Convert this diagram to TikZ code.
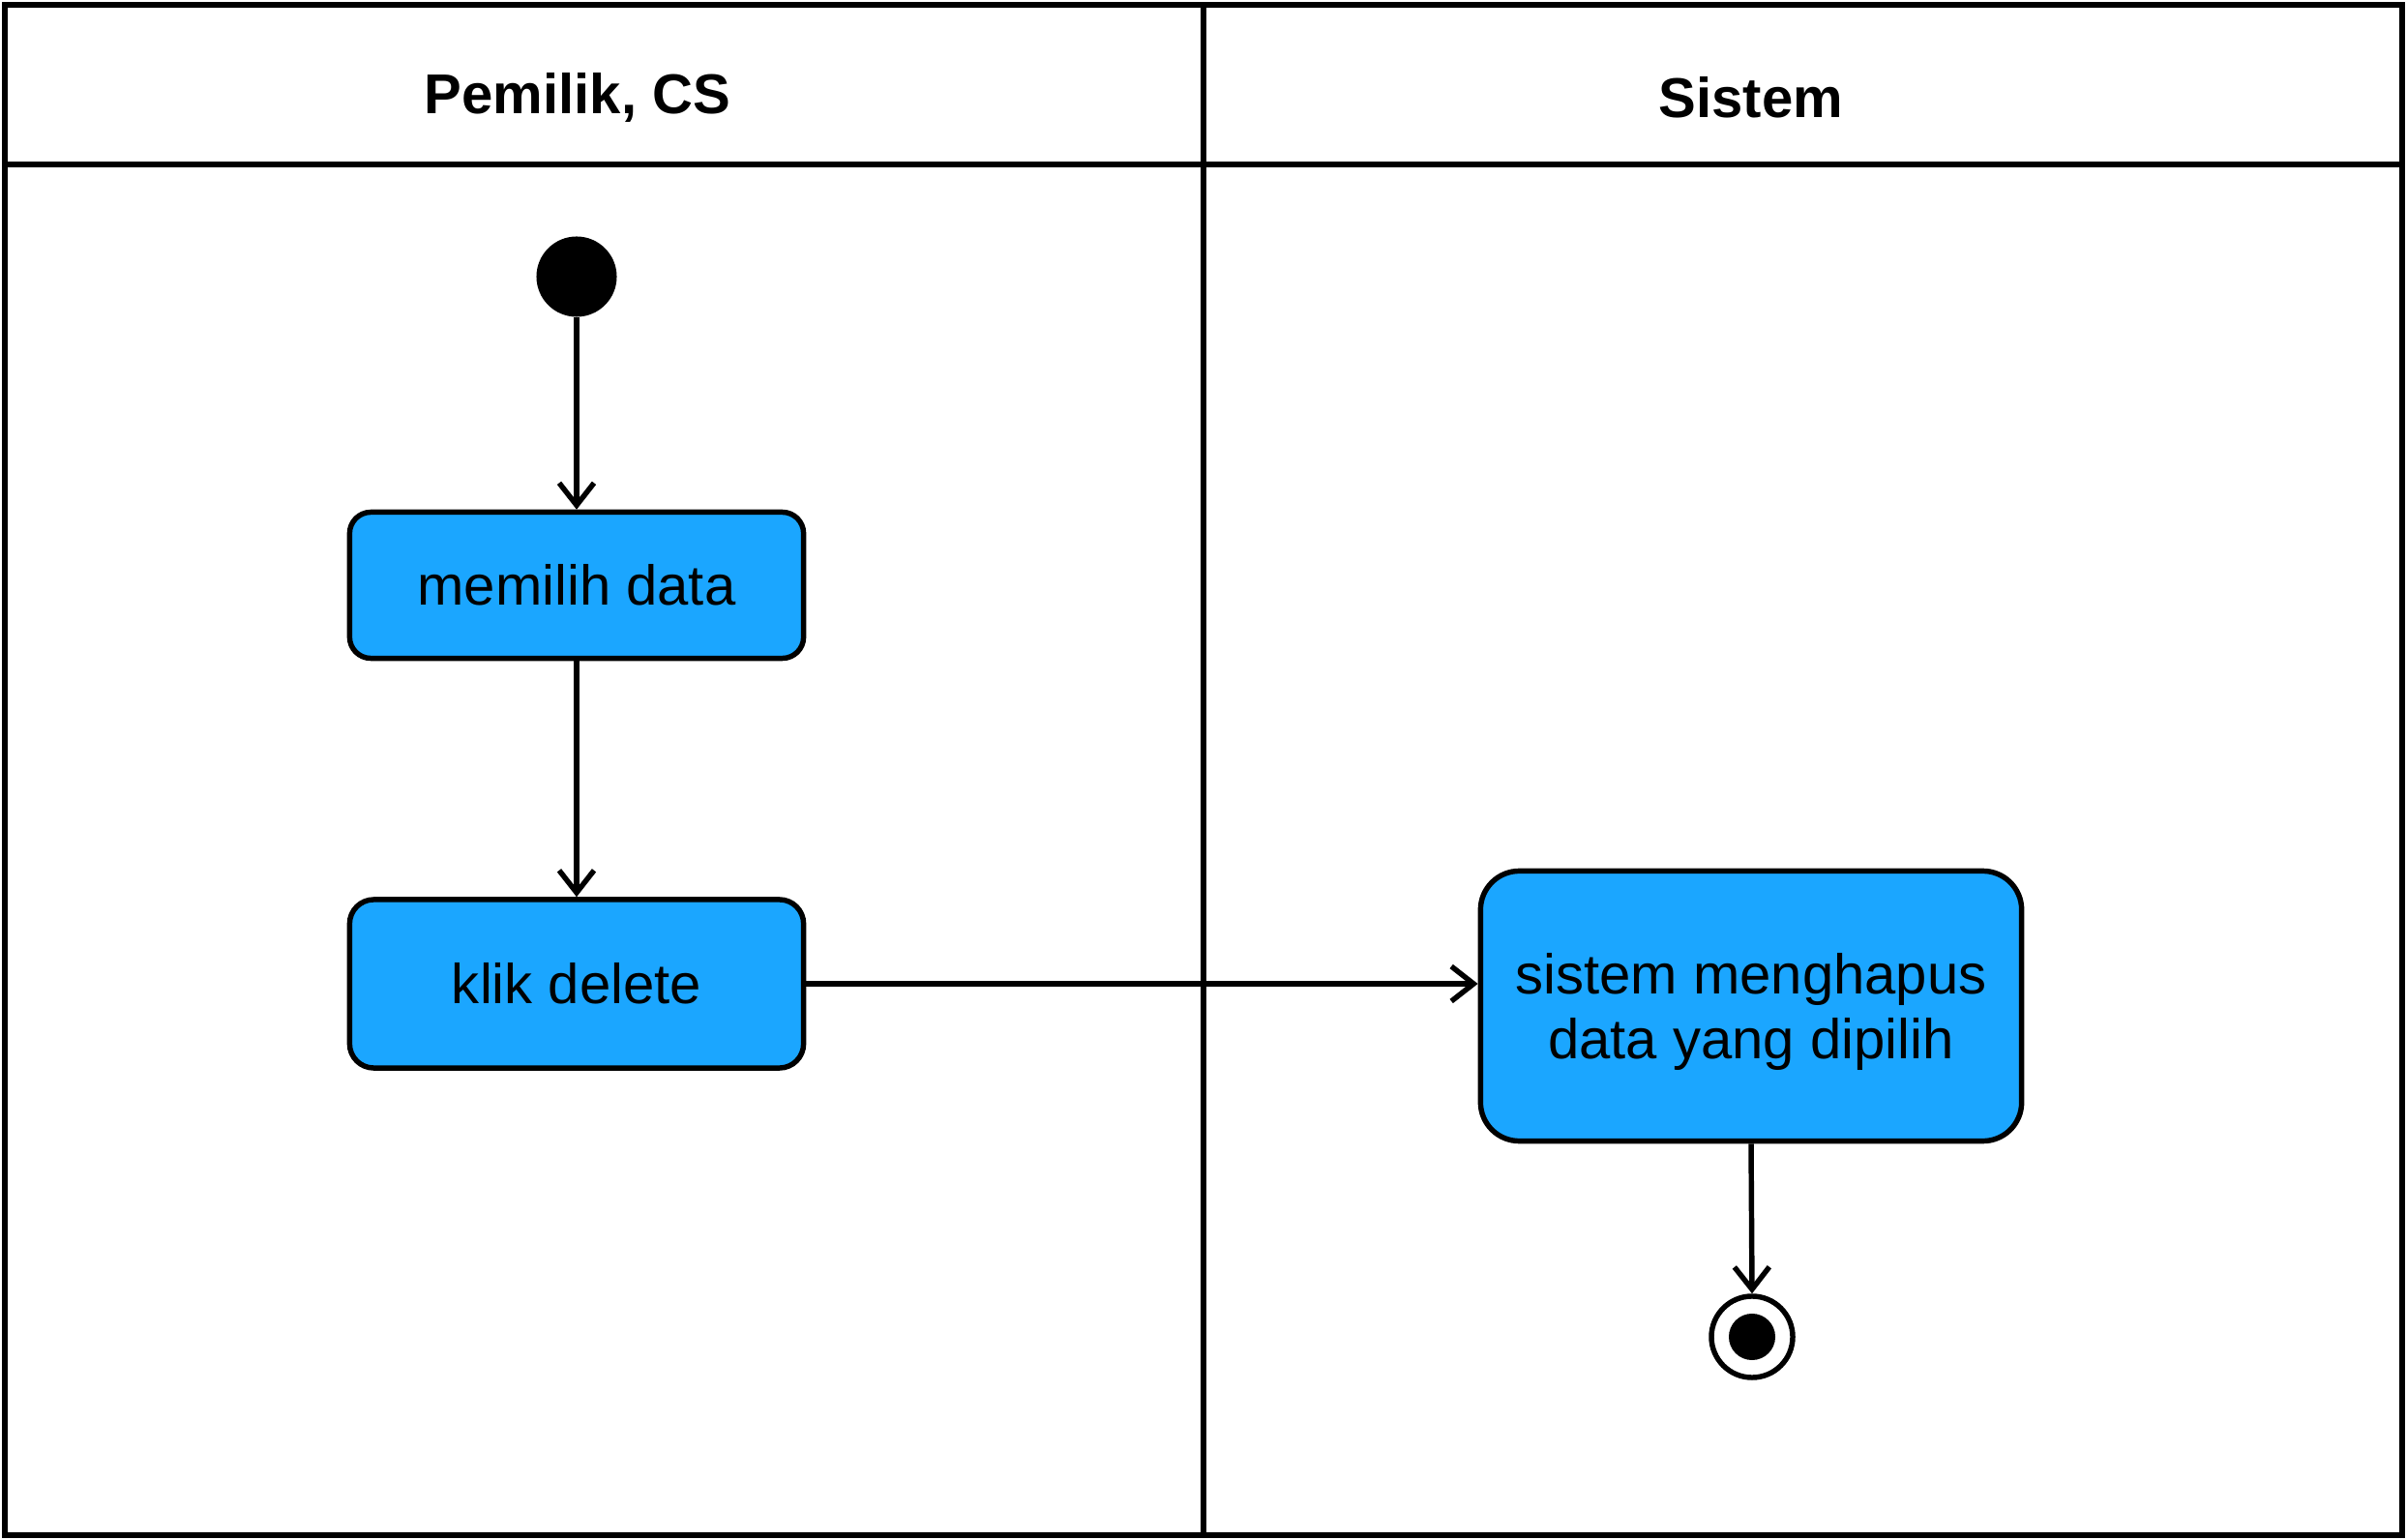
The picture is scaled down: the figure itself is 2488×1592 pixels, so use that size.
\documentclass[tikz,border=0pt]{standalone}
\usepackage{fontspec}
\setmainfont{Liberation Sans}
\usetikzlibrary{arrows.meta}
\definecolor{actblue}{RGB}{27,166,255}
\begin{document}
\begin{tikzpicture}[x=0.01cm,y=-0.01cm,
  lw/.style={line width=1.55pt},
  txt/.style={font=\fontsize{16.5}{19}\selectfont},
  act/.style={draw, lw, fill=actblue, align=center, inner sep=0pt, txt},
  flow/.style={lw, -{Straight Barb[length=0.23cm,width=0.36cm,line width=1.55pt]}},
  ]
\useasboundingbox (0,0) rectangle (2488,1592);
% frame and lanes
\draw[lw] (5,5) rectangle (2483,1587);
\draw[lw] (5,170) -- (2483,170);
\draw[lw] (1244,5) -- (1244,1587);
\node[txt, font=\fontsize{16.5}{19}\selectfont\bfseries, anchor=base] (h1) at (597,118) {Pemilik, CS};
\node[txt, font=\fontsize{16.5}{19}\selectfont\bfseries, anchor=base] (h2) at (1810,122) {Sistem};
% nodes
\node[circle, fill=black, minimum size=0.83cm, inner sep=0pt] (start) at (596,286) {};
\node[act, rounded corners=0.22cm, minimum width=4.69cm, minimum height=1.51cm] (b1) at (596,605) {memilih data};
\node[act, rounded corners=0.25cm, minimum width=4.69cm, minimum height=1.74cm] (b2) at (596,1017) {klik delete};
\node[act, rounded corners=0.40cm, minimum width=5.59cm, minimum height=2.79cm, text depth=0pt] (b3) at (1810,1040) {sistem menghapus\\data yang dipilih};
\node[circle, draw, lw, fill=white, minimum size=0.84cm, inner sep=0pt] (end) at (1811,1382) {};
\node[circle, fill=black, minimum size=0.48cm, inner sep=0pt] (endin) at (end.center) {};
% connectors
\draw[flow] (start) -- (b1);
\draw[flow] (b1) -- (b2);
\draw[flow] (b2.east) -- (b2.east -| b3.west);
\draw[flow] (b3.south) -- (end.north);
\end{tikzpicture}
\end{document}
